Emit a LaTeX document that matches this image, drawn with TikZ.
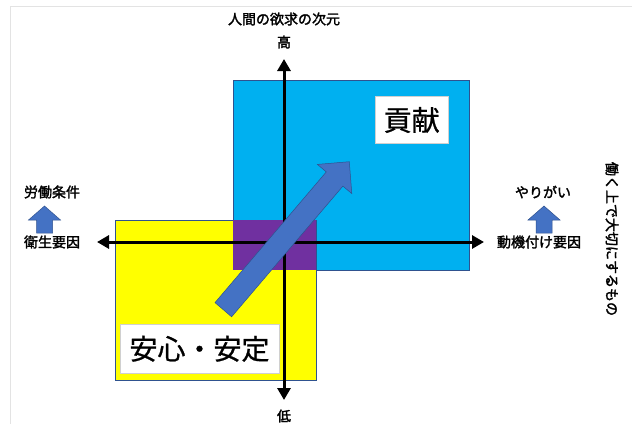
\documentclass[tikz,border=0pt]{standalone}
\usepackage{fontspec}
\setmainfont{Noto Sans CJK JP}
\newfontfamily\jpsmall[FakeBold=2]{Noto Sans CJK JP}
\newfontfamily\jpbig[FakeBold=0.8]{Noto Sans CJK JP}
\usetikzlibrary{arrows.meta}
\definecolor{skyblue}{HTML}{00B0F0}
\definecolor{yel}{HTML}{FFFF00}
\definecolor{purp}{HTML}{7030A0}
\definecolor{arrowblue}{HTML}{4472C4}
\definecolor{arrowedge}{HTML}{2F528F}
\definecolor{framegray}{HTML}{E3E3E3}
\definecolor{boxgray}{HTML}{D0D0D0}
\tikzset{
  region/.style={draw=arrowedge, line width=0.6pt},
  axisline/.style={line width=3pt, {Triangle[length=12pt,width=13pt]}-{Triangle[length=12pt,width=13pt]}},
  label/.style={font=\jpsmall\fontsize{14}{14}\selectfont, inner sep=0pt},
  bigbox/.style={fill=white, draw=boxgray, line width=0.5pt, font=\jpbig\fontsize{28}{28}\selectfont, inner sep=0pt},
  blockarrow/.style={fill=arrowblue, draw=arrowedge, line width=0.5pt, line join=miter}
}
\begin{document}
\begin{tikzpicture}[x=1pt,y=-1pt]
\useasboundingbox (0,0) rectangle (632,424);
\fill[white] (0,0) rectangle (632,424);
\draw[framegray, line width=0.8pt] (10,424) -- (10,6) -- (632,6);

% regions
\draw[region, fill=skyblue] (233,80) rectangle (469,270);
\draw[region, fill=yel] (115,220) rectangle (316,380);
\fill[purp] (233.3,220.3) rectangle (315.7,269.7);

% boxes
\node[bigbox, minimum width=73pt, minimum height=47pt] (kouken) at (411.7,120) {貢献};
\node[bigbox, minimum width=159pt, minimum height=49pt] (anshin) at (199.5,348.8) {安心・安定};

% axes
\coordinate (top) at (284,59);
\coordinate (bottom) at (284,400);
\coordinate (left) at (97,242);
\coordinate (right) at (484,242);
\draw[axisline] (bottom) -- (top);
\draw[axisline] (left) -- (right);

% diagonal block arrow
\coordinate (dA) at (231.6,316.8);
\coordinate (dB) at (342.9,186.1);
\coordinate (dC) at (351.8,193.6);
\coordinate (dP) at (349.3,161.7);
\coordinate (dD) at (317.4,164.4);
\coordinate (dE) at (326.3,171.9);
\coordinate (dF) at (215.0,302.6);
\draw[blockarrow] (dA) -- (dB) -- (dC) -- (dP) -- (dD) -- (dE) -- (dF) -- cycle;

% small up arrows
\draw[blockarrow] (36.5,233) -- (36.5,220) -- (28.5,220) -- (44.5,206) -- (60.5,220) -- (52.5,220) -- (52.5,233) -- cycle;
\draw[blockarrow] (536,233) -- (536,220) -- (528,220) -- (544,206) -- (560,220) -- (552,220) -- (552,233) -- cycle;

% labels
\node[label] (dim) at (284,19) {人間の欲求の次元};
\node[label] (high) at (284,42) {高};
\node[label] (low) at (284,416) {低};
\node[label] (roudou) at (52,192) {労働条件};
\node[label] (eisei) at (52,242) {衛生要因};
\node[label] (yarigai) at (543,192) {やりがい};
\node[label] (douki) at (539,242) {動機付け要因};
\node[label, rotate=-90] (taisetsu) at (612,239) {働く上で大切にするもの};
\end{tikzpicture}
\end{document}
